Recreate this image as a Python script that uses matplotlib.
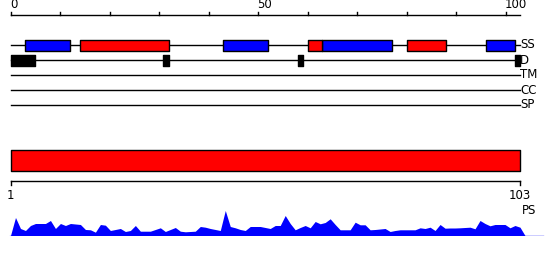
import matplotlib
matplotlib.use("Agg")
import matplotlib.pyplot as plt

# protein length and ruler
seq_len = 103
ruler_ticks = list(range(0, 101, 10))
ruler_labels = [0, 50, 100]

# feature tracks (start, end) in residue units
track_names = ["SS", "D", "TM", "CC", "SP"]
ss_strand = [(3, 12), (43, 52), (63, 77), (96, 102)]
ss_helix = [(14, 32), (60, 63), (80, 88)]
ss_line_end = 102
disorder = [(0, 5), (30.8, 32), (58, 59), (102, 103)]

# PS region
ps_region = (1, 103)
ps_ticks = [1, 103]

# per-residue profile (residues 1..104)
profile = [0, 18, 7, 5, 10, 12, 12, 12, 15, 7,
           12, 10, 12, 11.5, 11, 6, 5.7, 3.3, 11, 10.3,
           5, 6, 7, 4, 5, 10, 4.3, 4.3, 4.3, 6,
           7.7, 4, 6, 8, 4.3, 3.7, 4, 4.3, 9, 8.3,
           7, 6, 5, 25, 9, 7.7, 6, 5, 9, 9,
           9, 8, 7, 10, 10, 20, 12, 5.7, 8, 10,
           7.7, 14, 11.7, 13, 16.7, 11, 5.7, 5.7, 5.7, 13.3,
           10.7, 10.7, 5.7, 6, 6.5, 7, 4, 5, 5.7, 5.7,
           5.7, 5.7, 7.7, 7, 8.3, 5, 11, 7.3, 7.5, 7.5,
           7.7, 8, 8.3, 6.7, 15, 12, 9.7, 11, 11, 11,
           7.7, 10, 8.3, 0]
residues = list(range(1, len(profile) + 1))

W, H = 550, 260
fig = plt.figure(figsize=(W / 100, H / 100), dpi=100)
plt.rcParams['font.family'] = ['DejaVu Sans']
fs = 8.5

# ---- top panel: ruler + tracks (x in residue units, y in pixel rows)
ax = fig.add_axes([0, 0, 1, 1])
ax.set_axis_off()
u = 4.95
x0 = -10.5 / u
ax.set_xlim(x0, x0 + W / u)
ax.set_ylim(H, 0)

ax.plot([0, seq_len], [15, 15], color="black", lw=1)
for t in ruler_ticks:
    ax.plot([t, t], [15, 11.5], color="black", lw=1)
for t in ruler_labels:
    ax.text(t - 0.1, 11.5, str(t), ha="left", va="bottom", fontsize=fs)

row_y = {name: 45 + 15 * i for i, name in enumerate(track_names)}
for name in track_names:
    end = seq_len
    ax.plot([0, end], [row_y[name], row_y[name]], color="black", lw=1, zorder=1)
    ax.text(end, row_y[name], name, ha="left", va="center", fontsize=fs)

bh = 11
ax.broken_barh([(s, e - s) for s, e in ss_strand], (row_y["SS"] - bh / 2, bh),
               facecolors="#0000ff", edgecolors="black", lw=1, zorder=2)
ax.broken_barh([(s, e - s) for s, e in ss_helix], (row_y["SS"] - bh / 2, bh),
               facecolors="#ff0000", edgecolors="black", lw=1, zorder=2)
ax.broken_barh([(s, e - s) for s, e in disorder], (row_y["D"] - bh / 2, bh),
               facecolors="black", edgecolors="black", lw=1, zorder=2)

# ---- bottom panel: PS bar + residue axis
ax2 = fig.add_axes([0, 0, 1, 1])
ax2.set_axis_off()
ax2.patch.set_alpha(0)
u2 = 4.995
x1 = 1 - 10.5 / u2
ax2.set_xlim(x1, x1 + W / u2)
ax2.set_ylim(H, 0)
ax2.broken_barh([(ps_region[0], ps_region[1] - ps_region[0])], (150, 20.5),
                facecolors="#ff0000", edgecolors="black", lw=1)
ax2.plot([ps_ticks[0], ps_ticks[-1]], [180.7, 180.7], color="black", lw=1)
for t in ps_ticks:
    ax2.plot([t, t], [180.7, 185], color="black", lw=1)
    ax2.text(t, 189, str(t), ha="center", va="top", fontsize=fs)
ax2.text(ps_ticks[-1] + 0.3, 210, "PS", ha="left", va="center", fontsize=fs)

# ---- profile
ax3 = fig.add_axes([0, (H - 235.5) / H, 1, 30 / H])
ax3.set_axis_off()
ax3.patch.set_alpha(0)
ax3.set_xlim(x1, x1 + W / u2)
ax3.set_ylim(0, 30)
ax3.fill_between(residues, profile, 0, color="#0000ff", lw=0)
ax3.axhline(0, xmin=10 / W, xmax=543 / W, color="#0000ff", lw=1)

fig.savefig("out.png", dpi=100)
